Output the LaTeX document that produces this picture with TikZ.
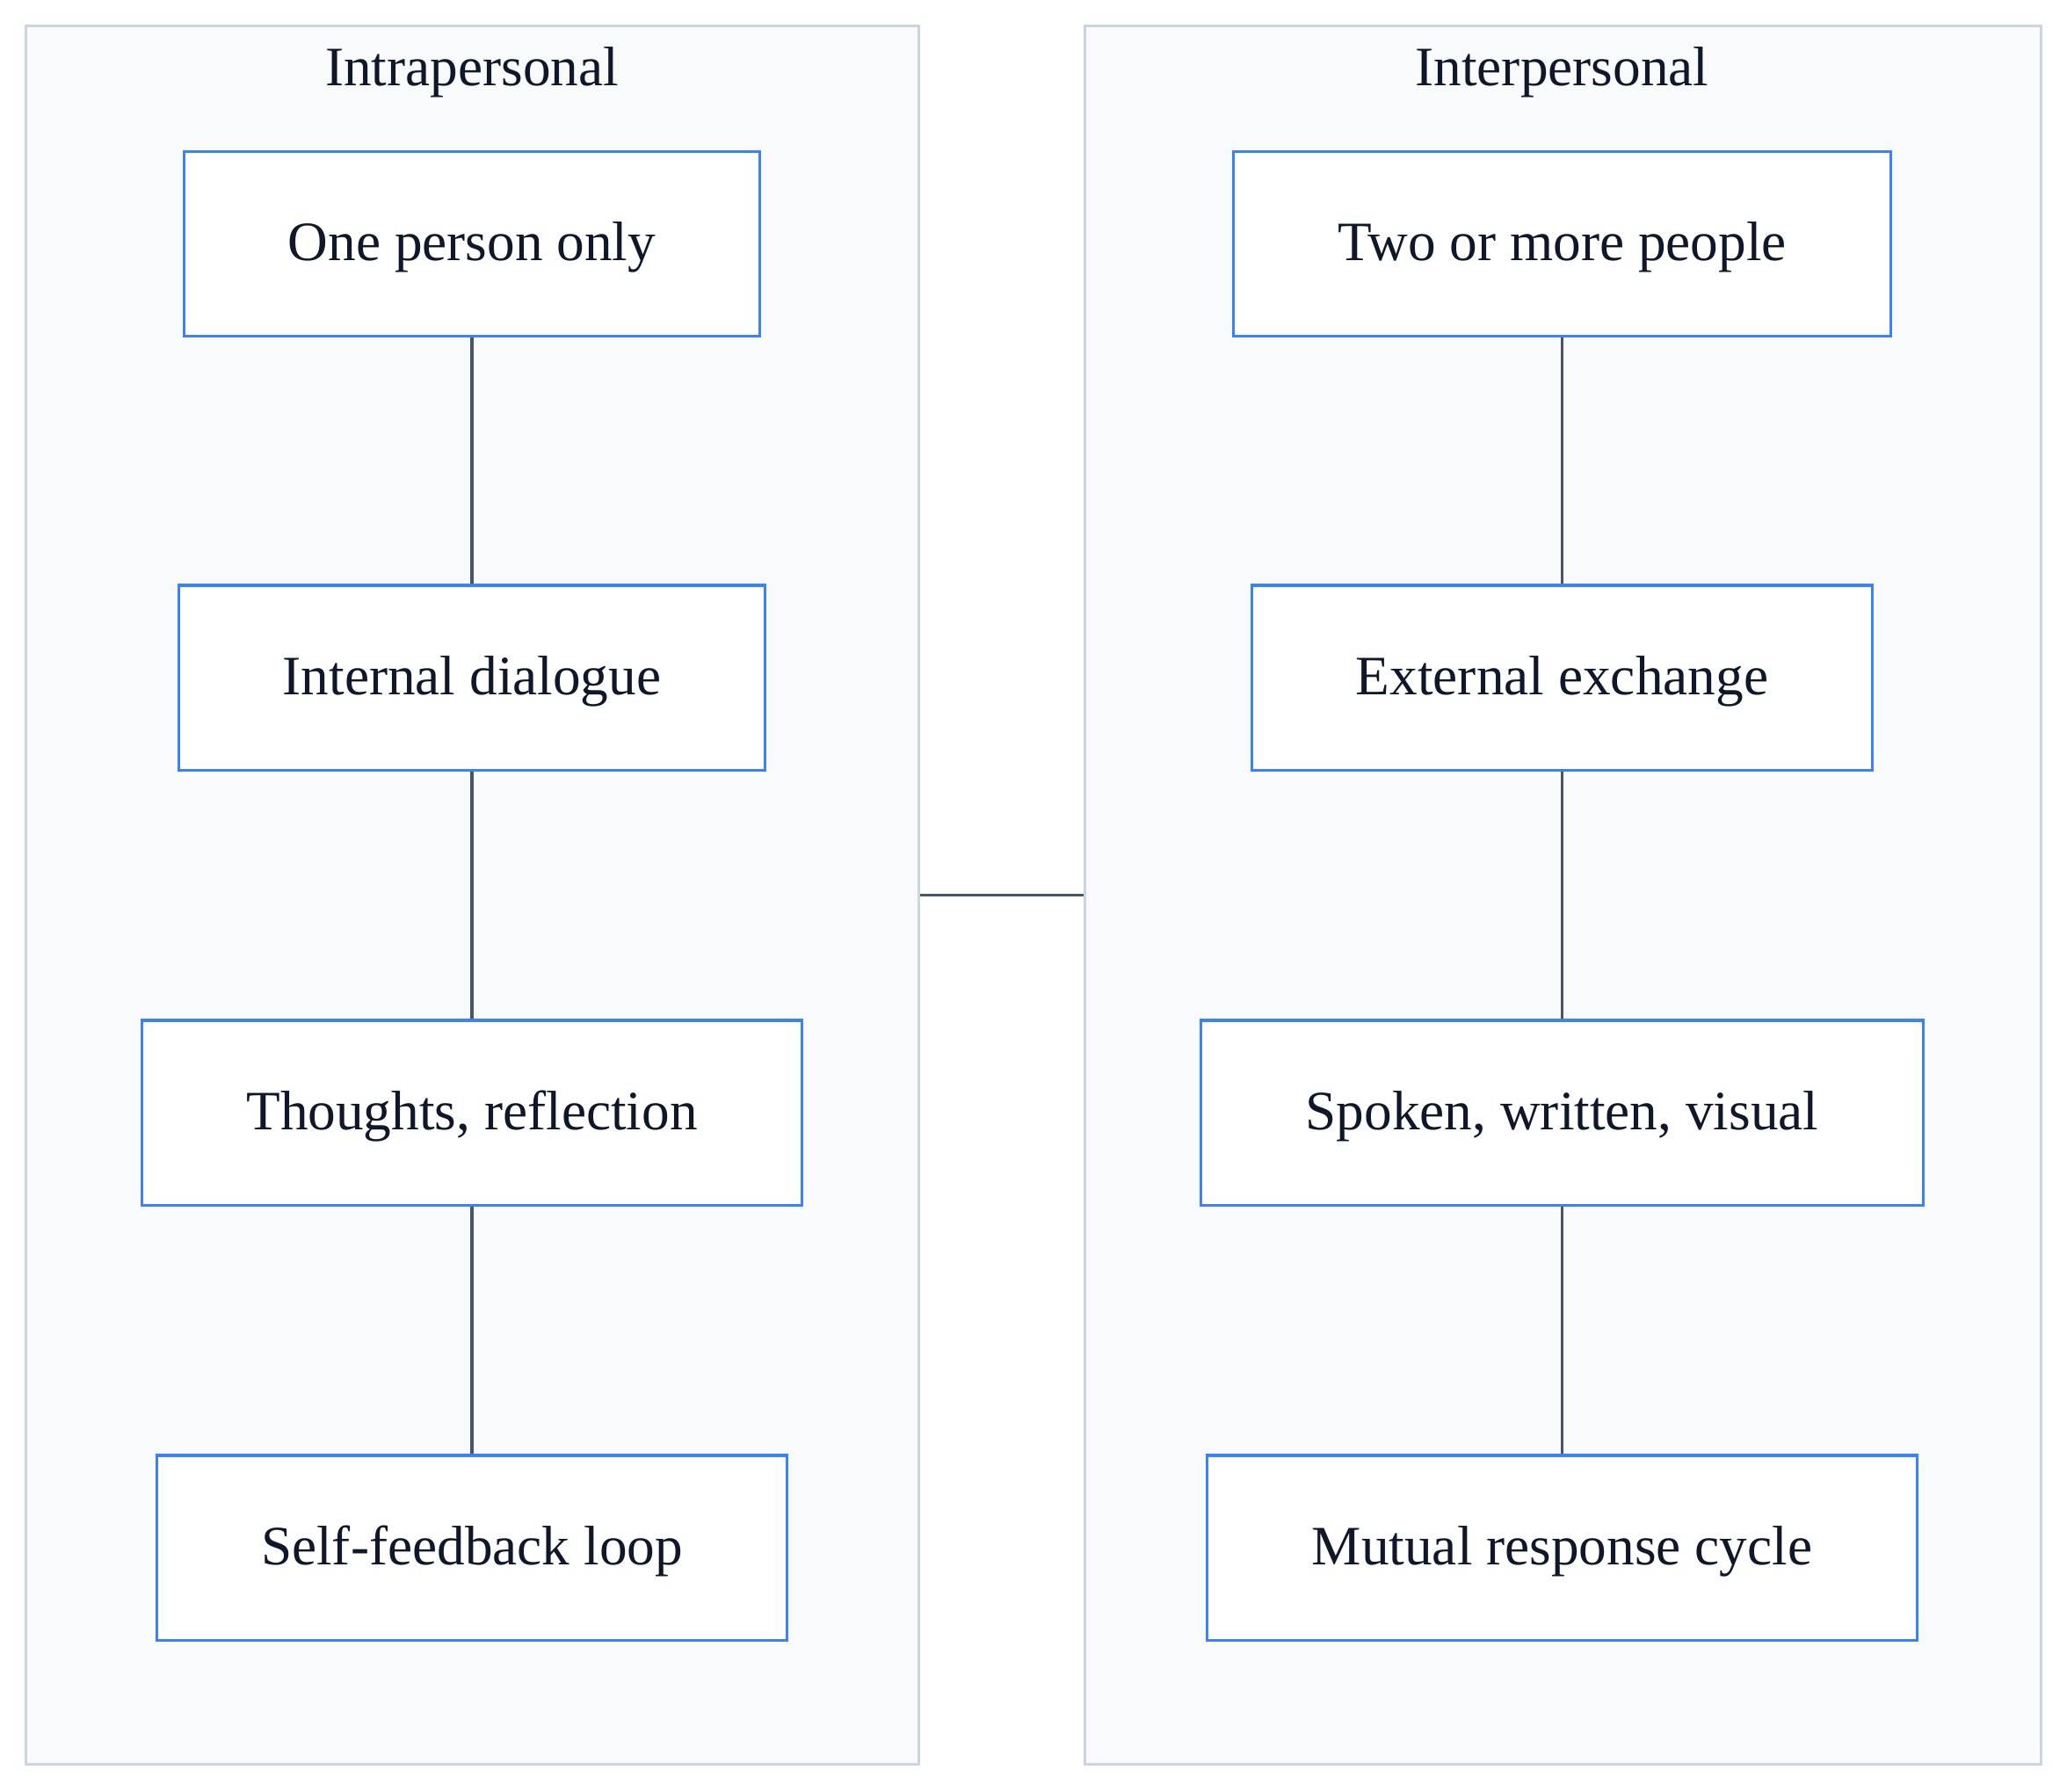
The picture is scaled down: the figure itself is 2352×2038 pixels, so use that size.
\documentclass[tikz,border=0pt]{standalone}
\usepackage{fontspec}
\setmainfont{Liberation Serif}
\usepackage{tikz}
\definecolor{boxblue}{HTML}{3B82F6}
\definecolor{panelfill}{HTML}{F8FAFC}
\definecolor{panelline}{HTML}{CBD5E1}
\definecolor{linkgray}{HTML}{475569}
\definecolor{textnavy}{HTML}{0F172A}
\tikzset{
  panel/.style={draw=panelline,fill=panelfill,line width=0.8pt,inner sep=0pt,minimum height=19.77cm},
  paneltitle/.style={text=textnavy,font=\fontsize{18}{22}\selectfont,inner sep=0pt,text height=13pt,text depth=2.2pt},
  itembox/.style={draw=boxblue,fill=white,line width=0.9pt,inner sep=0pt,minimum height=2.1cm,text=textnavy,font=\fontsize{18}{22}\selectfont,text height=13pt,text depth=2.2pt},
  link/.style={draw=linkgray,line width=0.9pt}
}
\begin{document}
\begin{tikzpicture}[x=0.01cm,y=-0.01cm]
			\useasboundingbox (0,0) rectangle (2352,2038);
			\node[panel,minimum width=10.15cm] (intra) at (537.5,1018.5) {};
			\node[panel,minimum width=10.875cm] (inter) at (1778.25,1018.5) {};
			\node[paneltitle] (intratitle) at (537,78) {Intrapersonal};
			\node[paneltitle] (intertitle) at (1777.5,78) {Interpersonal};
			\node[itembox,minimum width=6.54cm] (one) at (537,277.5) {One person only};
			\node[itembox,minimum width=6.66cm] (internal) at (537,771) {Internal dialogue};
			\node[itembox,minimum width=7.5cm] (thoughts) at (537,1266) {Thoughts, reflection};
			\node[itembox,minimum width=7.17cm] (selfloop) at (537,1761) {Self-feedback loop};
			\node[itembox,minimum width=7.47cm] (two) at (1777.5,277.5) {Two or more people};
			\node[itembox,minimum width=7.05cm] (external) at (1777.5,771) {External exchange};
			\node[itembox,minimum width=8.22cm] (spoken) at (1777.5,1266) {Spoken, written, visual};
			\node[itembox,minimum width=8.07cm] (mutual) at (1777.5,1761) {Mutual response cycle};
			\draw[link] (one) -- (internal);
			\draw[link] (internal) -- (thoughts);
			\draw[link] (thoughts) -- (selfloop);
			\draw[link] (two) -- (external);
			\draw[link] (external) -- (spoken);
			\draw[link] (spoken) -- (mutual);
			\draw[link] (intra.east) -- (inter.west);
		\end{tikzpicture}
\end{document}
